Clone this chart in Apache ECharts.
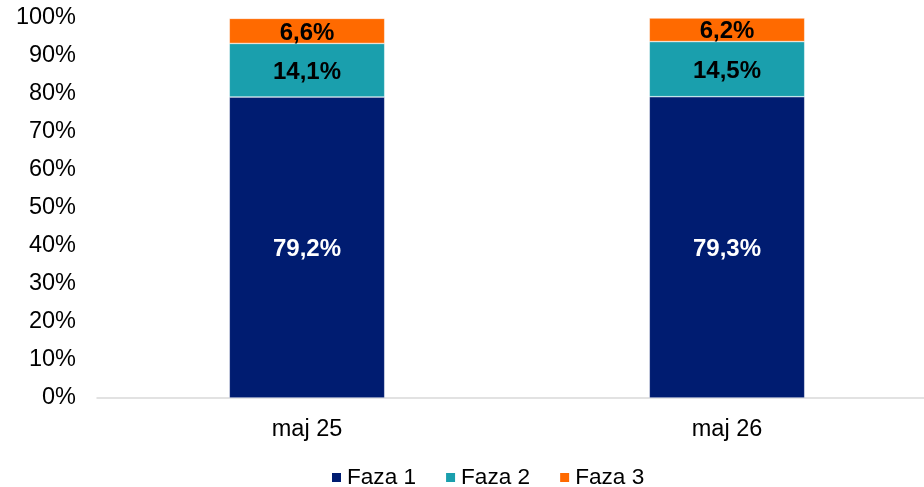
<!DOCTYPE html>
<html><head><meta charset="utf-8">
<script src="https://cdn.jsdelivr.net/npm/echarts@6/dist/echarts.min.js"></script>
<style>html,body{margin:0;padding:0;background:#fff}#c{width:924px;height:487px}</style>
</head><body><div id="c"></div>
<script>
const categories = ['maj 25', 'maj 26'];
const faza1 = [79.2, 79.3];
const faza2 = [14.1, 14.5];
const faza3 = [6.6, 6.2];
const seriesNames = ['Faza 1', 'Faza 2', 'Faza 3'];
const colors = ['#001C71', '#1A9FAD', '#FF6A00'];
const labelColors = ['#FFFFFF', '#000000', '#000000'];

const chart = echarts.init(document.getElementById('c'));
const fmt = p => p.value.toFixed(1).replace('.', ',') + '%';
chart.setOption({
  animation: false,
  textStyle: { fontFamily: 'Liberation Sans, Arial, sans-serif' },
  grid: { left: 97, top: 18, width: 840, height: 380, containLabel: false, outerBoundsMode: 'none' },
  legend: {
    top: 466, left: 330, padding: 0, itemWidth: 11, itemHeight: 11, itemGap: 28,
    textStyle: { fontSize: 22.6, color: '#000' },
    icon: 'rect'
  },
  xAxis: {
    type: 'category', data: categories,
    axisLine: { lineStyle: { color: '#d9d9d9', width: 1.5 } },
    axisTick: { show: false },
    axisLabel: { fontSize: 23.5, color: '#000', margin: 20 }
  },
  yAxis: {
    type: 'value', min: 0, max: 100, interval: 10,
    splitLine: { show: false },
    axisLine: { show: false }, axisTick: { show: false },
    axisLabel: { fontSize: 23.5, color: '#000', margin: 21, formatter: v => v + '%' }
  },
  series: [faza1, faza2, faza3].map((d, i) => ({
    name: seriesNames[i], type: 'bar', stack: 'all', data: d,
    barWidth: '37%',
    itemStyle: { color: colors[i], borderColor: '#ffffff', borderWidth: 0.5 },
    label: { show: true, position: 'inside', offset: [0, 2], formatter: fmt, fontSize: 24, fontWeight: 'bold', color: labelColors[i] }
  }))
});
</script></body></html>
